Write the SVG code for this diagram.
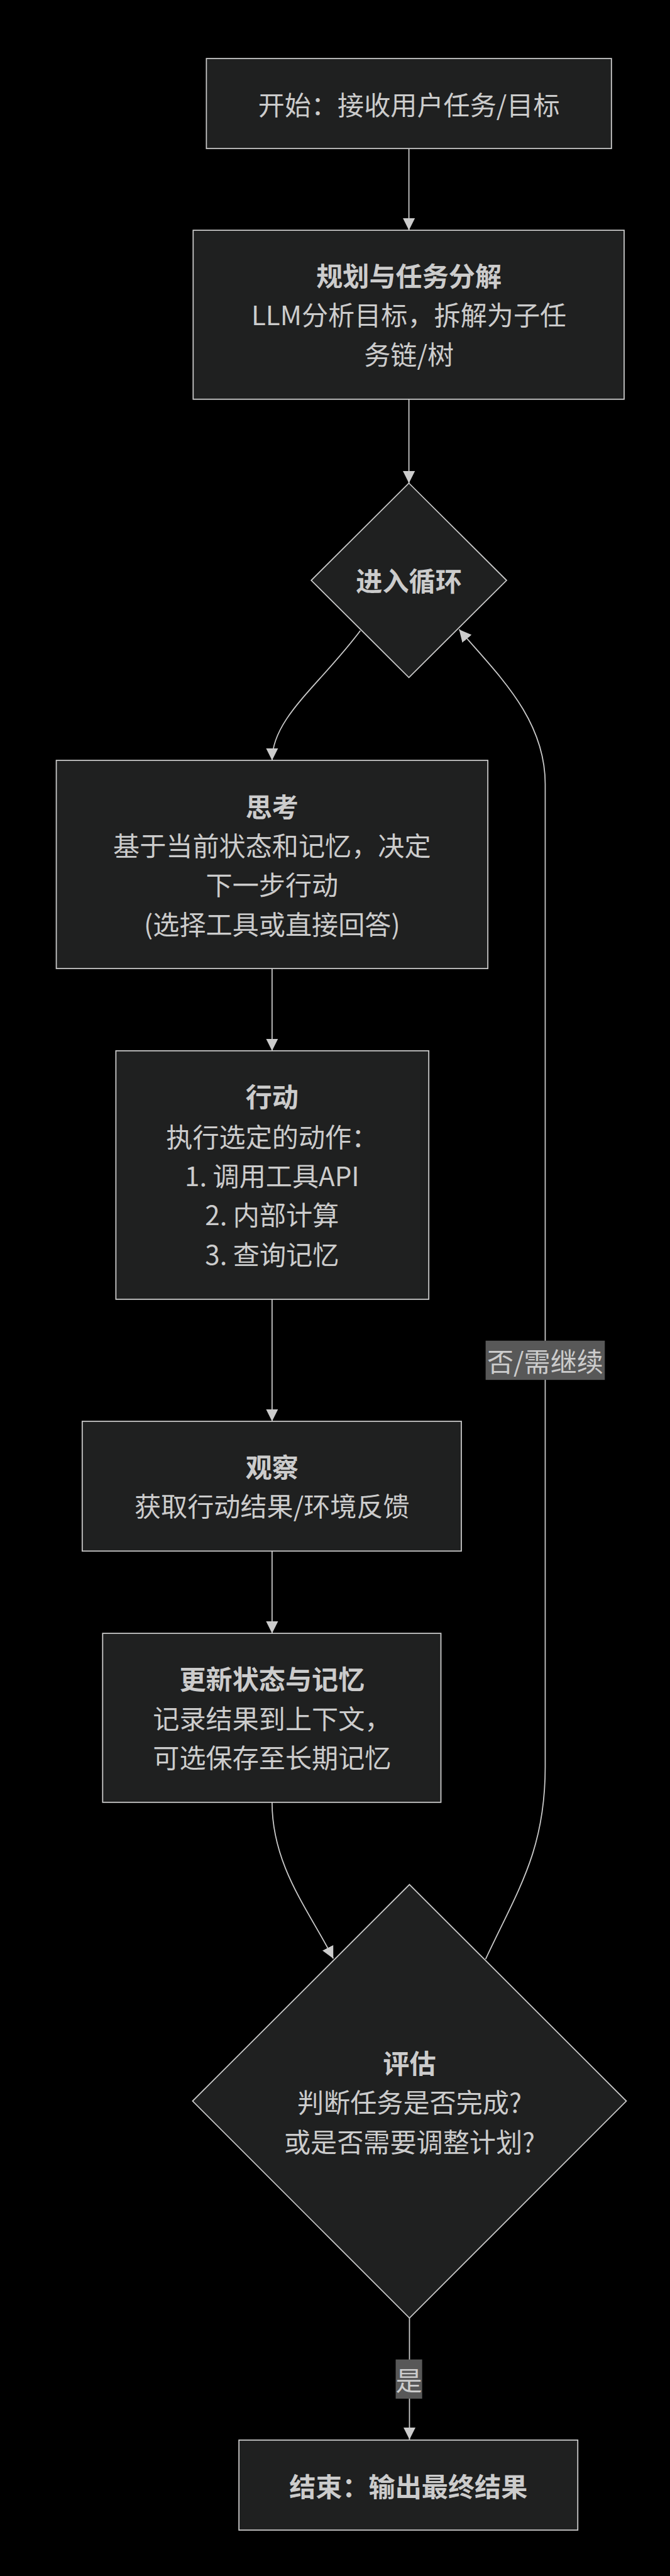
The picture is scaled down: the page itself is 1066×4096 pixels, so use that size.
<svg xmlns="http://www.w3.org/2000/svg" width="1066" height="4096" viewBox="0 0 1066 4096">
<style>
.bg{fill:#000}
.node{fill:#1f2020;stroke:#cccccc;stroke-width:2}
.edge{fill:none;stroke:#cccccc;stroke-width:2}
.t{font-family:"Noto Sans CJK SC","Liberation Sans",sans-serif;font-size:48px;fill:#cccccc;text-anchor:middle;dominant-baseline:central}
.b{font-weight:bold}
.lbl{fill:#585858}
</style>
<defs>
<marker id="arrow" viewBox="0 0 10 10" refX="10" refY="5" markerUnits="userSpaceOnUse" markerWidth="22" markerHeight="23" orient="auto">
<path d="M0,0 L10,5 L0,10 z" fill="#cccccc"/>
</marker>
</defs>
<rect class="bg" x="0" y="0" width="1066" height="4096"/>
<g transform="scale(0.878)">
<g id="connectors">
<path class="edge" d="M741,269 L741,417" marker-end="url(#arrow)"/>
<path class="edge" d="M741,723 L741,875" marker-end="url(#arrow)"/>
<path class="edge" d="M653,1142 C580,1240 493,1300 493,1377" marker-end="url(#arrow)"/>
<path class="edge" d="M493,1754 L493,1903" marker-end="url(#arrow)"/>
<path class="edge" d="M493,2353 L493,2574" marker-end="url(#arrow)"/>
<path class="edge" d="M493,2809 L493,2958" marker-end="url(#arrow)"/>
<path class="edge" d="M493,3264 C493,3380 560,3460 604,3547" marker-end="url(#arrow)"/>
<path class="edge" d="M880,3548 C940,3420 988,3350 988,3200 L988,1420 C988,1300 900,1220 832,1140" marker-end="url(#arrow)"/>
<path class="edge" d="M742,4198 L742,4418" marker-end="url(#arrow)"/>
<g id="label-no">
<rect class="lbl" x="880" y="2428" width="216" height="71"/>
<text class="t" x="988" y="2463">否/需继续</text>
</g>
<g id="label-yes">
<rect class="lbl" x="717" y="4273" width="48" height="71"/>
<text class="t" x="741" y="4308">是</text>
</g>
</g>
<g id="start">
<rect class="node" x="374" y="106" width="734" height="163"/>
<text class="t" x="741" y="187">开始：接收用户任务/目标</text>
</g>
<g id="plan">
<rect class="node" x="350" y="417" width="781" height="306"/>
<text class="t b" x="741" y="497">规划与任务分解</text>
<text class="t" x="741" y="568">LLM分析目标，拆解为子任</text>
<text class="t" x="741" y="640">务链/树</text>
</g>
<g id="loop">
<polygon class="node" points="741,875 918,1051 741,1227 564,1051"/>
<text class="t b" x="741" y="1049">进入循环</text>
</g>
<g id="think">
<rect class="node" x="102" y="1377" width="782" height="377"/>
<text class="t b" x="493" y="1458">思考</text>
<text class="t" x="493" y="1529">基于当前状态和记忆，决定</text>
<text class="t" x="493" y="1600">下一步行动</text>
<text class="t" x="493" y="1671">(选择工具或直接回答)</text>
</g>
<g id="act">
<rect class="node" x="210" y="1903" width="567" height="450"/>
<text class="t b" x="493" y="1984">行动</text>
<text class="t" x="493" y="2056">执行选定的动作：</text>
<text class="t" x="493" y="2127">1. 调用工具API</text>
<text class="t" x="493" y="2198">2. 内部计算</text>
<text class="t" x="493" y="2269">3. 查询记忆</text>
</g>
<g id="observe">
<rect class="node" x="149" y="2574" width="687" height="235"/>
<text class="t b" x="493" y="2654">观察</text>
<text class="t" x="493" y="2725">获取行动结果/环境反馈</text>
</g>
<g id="update">
<rect class="node" x="186" y="2958" width="613" height="306"/>
<text class="t b" x="493" y="3038">更新状态与记忆</text>
<text class="t" x="493" y="3110">记录结果到上下文，</text>
<text class="t" x="493" y="3181">可选保存至长期记忆</text>
</g>
<g id="evaluate">
<polygon class="node" points="742,3413 1135,3805 742,4198 349,3805"/>
<text class="t b" x="742" y="3734">评估</text>
<text class="t" x="742" y="3805">判断任务是否完成?</text>
<text class="t" x="742" y="3876">或是否需要调整计划?</text>
</g>
<g id="end">
<rect class="node" x="433" y="4419" width="614" height="163"/>
<text class="t b" x="740" y="4500">结束：输出最终结果</text>
</g>
</g>
</svg>
